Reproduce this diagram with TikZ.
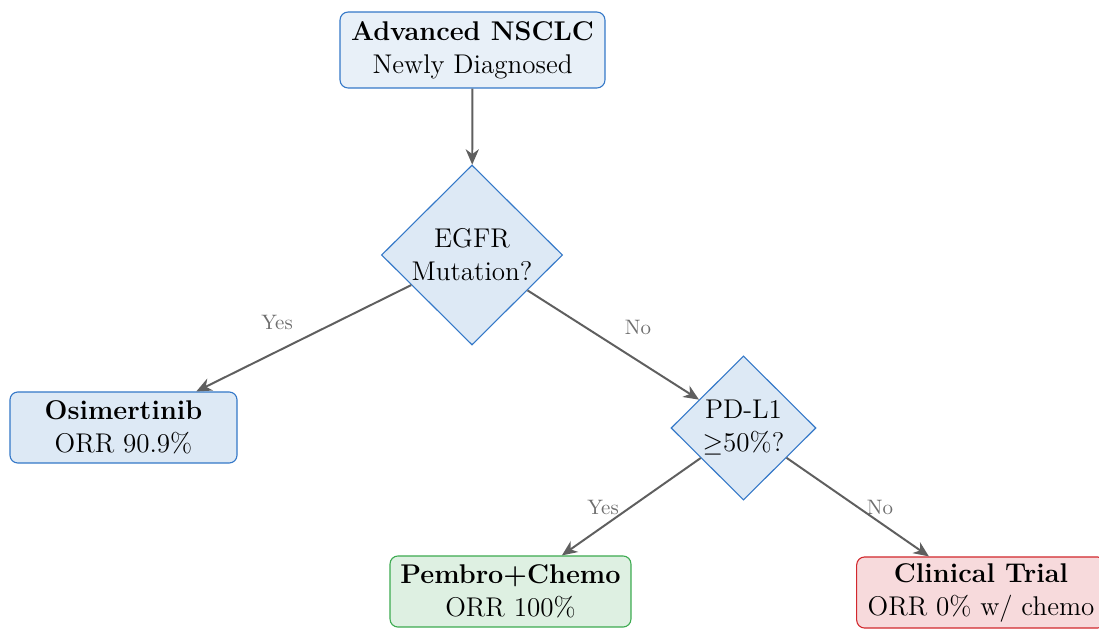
\documentclass[tikz,border=0pt]{standalone}
\usetikzlibrary{shapes.geometric,arrows.meta}
\definecolor{topfill}{RGB}{232,240,248}
\definecolor{bluefill}{RGB}{221,233,245}
\definecolor{blueline}{RGB}{52,120,200}
\definecolor{greenfill}{RGB}{222,240,226}
\definecolor{greenline}{RGB}{60,170,80}
\definecolor{redfill}{RGB}{247,218,220}
\definecolor{redline}{RGB}{210,40,45}
\definecolor{arrowgray}{RGB}{95,95,95}
\definecolor{labelgray}{RGB}{110,110,110}
\tikzset{
  box/.style={rectangle, rounded corners=3.6pt, draw, line width=0.5pt, align=center,
    font=\fontsize{12.3}{15}\selectfont, inner sep=0pt},
  dec/.style={diamond, aspect=1, draw=blueline, fill=bluefill, line width=0.5pt, align=center,
    font=\fontsize{12.3}{15}\selectfont, inner sep=0pt},
  conn/.style={draw=arrowgray, line width=0.9pt, -{Stealth[length=7pt,width=6pt,inset=2.2pt]}},
  lbl/.style={text=labelgray, font=\fontsize{9.5}{11}\selectfont}
}
\begin{document}
\begin{tikzpicture}[x=0.4545pt, y=-0.4545pt]
\useasboundingbox (0,0) rectangle (1099,628);
\node[box, draw=blueline, fill=topfill, minimum width=120.4pt, minimum height=34.5pt] (start) at (472.5,50)
  {\textbf{Advanced NSCLC}\\Newly Diagnosed};
\node[dec, minimum width=82.3pt, minimum height=81.8pt] (egfr) at (472,255) {EGFR\\Mutation?};
\node[box, draw=blueline, fill=bluefill, minimum width=103.2pt, minimum height=32.3pt] (osi) at (123.5,427.5)
  {\textbf{Osimertinib}\\ORR 90.9\%};
\node[dec, minimum width=65.9pt, minimum height=65.5pt] (pdl) at (743.5,428) {PD-L1\\$\geq$50\%?};
\node[box, draw=greenline, fill=greenfill, minimum width=109.5pt, minimum height=32.3pt] (pembro) at (510.5,591.5)
  {\textbf{Pembro+Chemo}\\ORR 100\%};
\node[box, draw=redline, fill=redfill, minimum width=113pt, minimum height=32.3pt] (trial) at (981,592.5)
  {\textbf{Clinical Trial}\\ORR 0\% w/ chemo};
\draw[conn] (start) -- (egfr);
\draw[conn] (egfr) -- (osi);
\draw[conn] (egfr) -- (pdl);
\draw[conn] (pdl) -- (pembro);
\draw[conn] (pdl) -- (trial);
\node[lbl] (l1) at (277,322) {Yes};
\node[lbl] (l2) at (638,327) {No};
\node[lbl] (l3) at (603,507) {Yes};
\node[lbl] (l4) at (880,507) {No};
\end{tikzpicture}
\end{document}
